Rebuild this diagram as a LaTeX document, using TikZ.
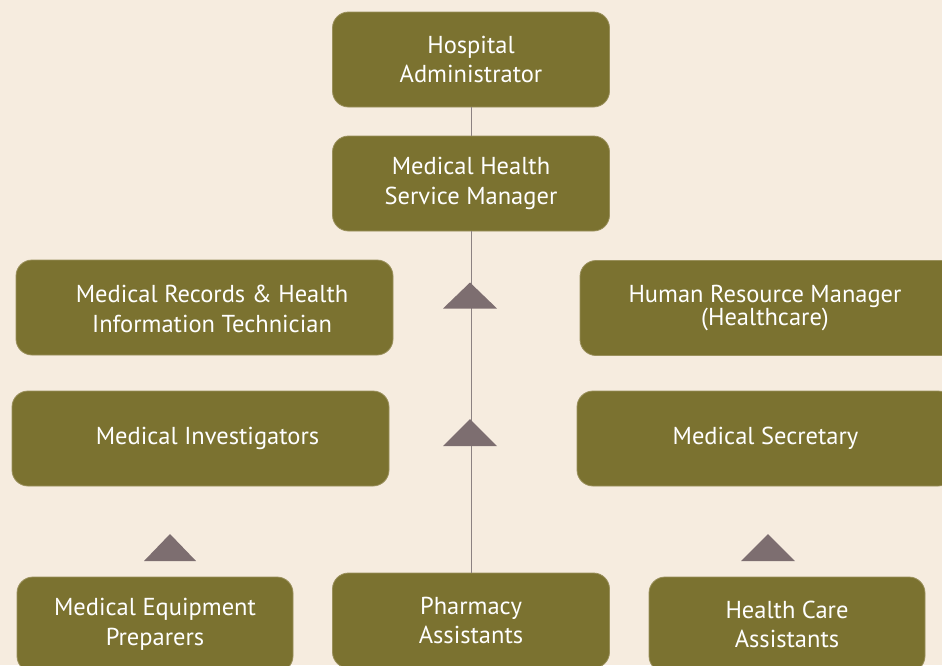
\documentclass[tikz,border=0pt]{standalone}
\usepackage{fontspec}
\setmainfont{PT Sans}
\definecolor{bg}{HTML}{F6ECDF}
\definecolor{olive}{HTML}{7B7230}
\definecolor{tri}{HTML}{7D6E70}
\definecolor{ln}{HTML}{8C8282}
\begin{document}
\begin{tikzpicture}[x=1pt,y=-1pt,
  box/.style={fill=olive, draw=olive!75!bg, line width=0.8pt, rounded corners=16pt,
    minimum height=95pt, inner sep=0pt, text=white, align=center,
    font=\fontsize{24.5}{29.5}\selectfont},
  wide/.style={minimum width=377pt},
  narrow/.style={minimum width=277pt},
  txt/.style={text=white, align=center, inner sep=0pt, font=\fontsize{24.5}{29.5}\selectfont},
  conn/.style={draw=ln, line width=0.9pt},
  tri/.style={fill=tri, draw=none}]
\useasboundingbox (0,0) rectangle (942,665);
\clip (0,0) rectangle (942,665);
\fill[bg] (0,0) rectangle (942,665);

\node[box, narrow] (ha) at (471,59.5) {Hospital\\Administrator};
\node[box, narrow] (mhsm) at (471,183.5) {Medical Health\\Service Manager};
\node[box, wide] (mr) at (204.5,307.5) {};
\node[txt] (mrt) at (212,309) {Medical Records \& Health\\Information Technician};
\node[box, wide] (hr) at (768.5,308) {};
\node[txt] (hrt) at (765,308) {Human Resource Manager\\[-7pt](Healthcare)};
\node[box, wide] (mi) at (200.5,438.5) {};
\node[txt] (mit) at (207.5,438.5) {Medical Investigators};
\node[box, wide] (ms) at (765.5,438.5) {Medical Secretary};
\node[box, minimum width=276pt] (me) at (155,624.5) {Medical Equipment\\Preparers};
\node[box, narrow] (pa) at (471,620.5) {Pharmacy\\Assistants};
\node[box, minimum width=276pt] (hc) at (787,624.5) {Health Care\\Assistants};

\draw[conn] (ha.south) -- (mhsm.north);
\draw[conn] (mhsm.south) -- (pa.north);

\fill[tri] (443,308.5) -- (470,282.5) -- (497,308.5) -- cycle;
\fill[tri] (443,446) -- (470,419) -- (497,446) -- cycle;
\fill[tri] (144,561) -- (170,534) -- (196,561) -- cycle;
\fill[tri] (741,561) -- (768,534) -- (795,561) -- cycle;
\end{tikzpicture}
\end{document}
